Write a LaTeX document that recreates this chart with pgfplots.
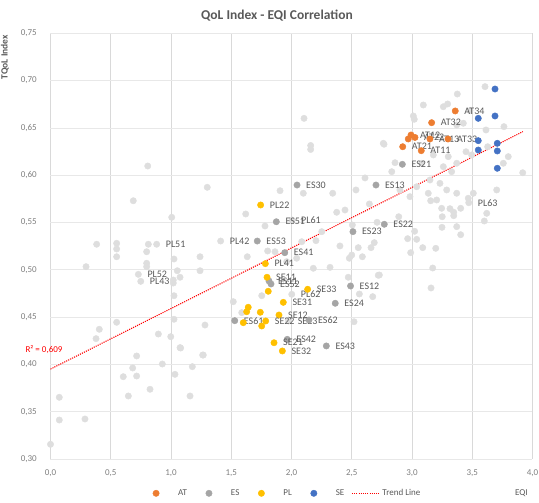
\documentclass[border=0pt]{standalone}
\usepackage{fontspec}
\setmainfont{Carlito}
\usepackage{pgfplots}
\pgfplotsset{compat=1.18}
\definecolor{atc}{HTML}{ED7D31}
\definecolor{esc}{HTML}{A5A5A5}
\definecolor{plc}{HTML}{FFC000}
\definecolor{sec}{HTML}{4472C4}
\definecolor{oth}{HTML}{DEDEDE}
\definecolor{txt}{HTML}{595959}
\definecolor{tickc}{HTML}{7F7F7F}
\definecolor{gridx}{HTML}{D9D9D9}
\definecolor{gridy}{HTML}{E8E8E8}
\pgfplotsset{
  dot/.style={only marks, mark=*, mark size=3.2pt, color=#1, mark options={draw=#1, fill=#1},
    legend image code/.code={\path[draw=none,fill=none] (-15pt,0pt) (20pt,0pt); \draw[##1] plot coordinates {(0pt,0pt)};}},
  trendleg/.style={legend image code/.code={\draw[##1] (0pt,0pt) -- (28pt,0pt);}},
  labs/.style={nodes near coords, point meta=explicit symbolic,
    every node near coord/.append style={anchor=west, inner sep=0pt, xshift=9pt,
      font=\fontsize{10}{11}\selectfont, text=txt}},
}
\begin{document}
\begin{tikzpicture}
\path[use as bounding box] (-50.5pt,-44pt) rectangle (488.5pt,459pt);
\begin{axis}[
  at={(0pt,0pt)}, anchor=south west,
  scale only axis, width=482pt, height=425.7pt,
  xmin=0, xmax=4, ymin=0.3, ymax=0.75,
  xtick={0,0.5,1,1.5,2,2.5,3,3.5,4},
  ytick={0.3,0.35,0.4,0.45,0.5,0.55,0.6,0.65,0.7,0.75},
  xmajorgrids, ymajorgrids,
  x grid style={draw=gridx, line width=0.7pt},
  y grid style={draw=gridy, line width=0.7pt},
  axis line style={draw=none},
  major tick length=0pt,
  tick style={draw=none},
  clip=false,
  /pgf/number format/assume math mode=true,
  xticklabel style={/pgf/number format/fixed, /pgf/number format/fixed zerofill, /pgf/number format/precision=1, /pgf/number format/use comma,
    font=\fontsize{9}{10}\selectfont, text=tickc, inner sep=0pt, anchor=north, yshift=-10.5pt},
  yticklabel style={/pgf/number format/fixed, /pgf/number format/fixed zerofill, /pgf/number format/precision=2, /pgf/number format/use comma,
    font=\fontsize{9}{10}\selectfont, text=tickc, inner sep=0pt, anchor=east, xshift=-13.5pt},
  legend columns=5,
  legend style={at={(0.4797,-0.0806)}, anchor=center, draw=none, fill=none,
    font=\fontsize{9}{10}\selectfont, text=txt,
    /tikz/every odd column/.append style={column sep=0pt},
    /tikz/every even column/.append style={column sep=5pt}},
]
% other regions (light grey)
\addplot[dot=oth, forget plot] table {
x y
0.000 0.3155
0.073 0.3652
0.073 0.3412
0.286 0.3423
0.604 0.3870
0.682 0.3962
0.715 0.4089
0.715 0.3877
0.646 0.3666
0.826 0.3737
0.928 0.4004
1.033 0.3895
1.080 0.4173
1.177 0.3976
1.158 0.3666
1.263 0.4099
0.383 0.5270
0.295 0.5033
0.549 0.5280
0.549 0.5220
0.549 0.5138
0.687 0.5730
0.798 0.5191
0.812 0.5270
0.798 0.5069
0.798 0.5033
1.006 0.5555
1.025 0.5114
1.052 0.4990
1.075 0.4921
1.019 0.4892
1.019 0.4860
1.025 0.4726
1.025 0.4477
0.549 0.4445
0.405 0.4371
0.378 0.4272
0.895 0.4321
0.998 0.4293
1.075 0.4177
1.241 0.5138
1.241 0.4990
0.807 0.6097
1.301 0.5872
2.104 0.6601
2.159 0.6314
2.159 0.6272
2.768 0.6327
1.620 0.5590
1.905 0.5836
2.098 0.5809
2.342 0.5809
1.780 0.5463
2.375 0.5608
2.444 0.5632
2.251 0.5403
2.203 0.5308
2.085 0.5297
2.402 0.5252
1.802 0.5199
1.863 0.5191
1.633 0.5138
2.043 0.5122
2.471 0.4921
2.320 0.5026
2.181 0.5016
1.960 0.5086
1.517 0.4663
1.753 0.4726
1.282 0.4416
1.268 0.4099
2.519 0.4451
2.729 0.4945
2.563 0.4744
2.674 0.4716
1.587 0.4547
2.646 0.5696
2.890 0.5561
2.710 0.5502
2.505 0.5474
3.022 0.5407
2.964 0.5329
3.039 0.5322
2.687 0.5287
2.554 0.5234
2.660 0.5234
2.500 0.5156
2.480 0.5122
2.588 0.5138
2.989 0.5181
3.089 0.5234
3.197 0.5227
3.172 0.5019
2.720 0.4942
3.158 0.4808
3.246 0.5650
3.251 0.5561
3.346 0.5608
3.346 0.5572
3.404 0.5650
3.371 0.5456
3.404 0.5371
3.249 0.5449
3.155 0.5730
3.620 0.5597
3.600 0.5516
3.606 0.6936
3.376 0.6858
3.296 0.6753
3.260 0.6724
3.094 0.6742
3.011 0.6626
3.019 0.6591
3.481 0.6682
3.426 0.6549
3.371 0.6531
3.614 0.6478
3.763 0.6513
3.448 0.6248
3.628 0.6301
3.495 0.6214
3.301 0.6196
3.177 0.6214
3.371 0.6126
3.260 0.6090
3.080 0.6126
2.859 0.6132
2.762 0.6337
2.832 0.6037
3.329 0.6037
3.232 0.5914
3.149 0.5949
3.135 0.5809
3.205 0.5738
3.288 0.5844
3.371 0.5809
3.039 0.5878
2.983 0.5773
2.900 0.5844
3.509 0.5809
3.467 0.5756
3.703 0.5844
3.919 0.6026
3.758 0.6126
3.799 0.6196
3.315 0.5646
2.535 0.5844
2.610 0.5971
};
\addplot[dot=oth, forget plot, labs] table[meta=label] {
x y label
2.004 0.5526 PL61
1.412 0.5304 PL42
0.881 0.5270 PL51
0.729 0.4952 PL52
0.749 0.4878 PL43
2.002 0.4741 PL62
3.471 0.5709 PL63
1.976 0.4459 SE23
};
% AT
\addplot[dot=atc, forget plot] table {
x y
2.969 0.6383
};
\addplot[dot=atc, labs] table[meta=label] {
x y label
3.359 0.6679 AT34
3.163 0.6555 AT32
2.992 0.6425 AT12
3.025 0.6399 AT22
3.149 0.6383 AT13
3.299 0.6383 AT33
2.923 0.6301 AT21
3.077 0.6259 AT11
};
\addlegendentry{AT}
% ES
\addplot[dot=esc, labs] table[meta=label] {
x y label
2.046 0.5896 ES30
1.874 0.5508 ES51
1.716 0.5304 ES53
1.944 0.5181 ES41
1.813 0.4882 ES11
1.830 0.4850 ES52
2.490 0.4829 ES12
2.363 0.4646 ES24
1.529 0.4462 ES61
2.145 0.4469 ES62
1.965 0.4265 ES42
2.289 0.4195 ES43
2.920 0.6115 ES21
2.701 0.5896 ES13
2.770 0.5481 ES22
2.510 0.5403 ES23
};
\addlegendentry{ES}
% PL
\addplot[dot=plc, forget plot] table {
x y
1.807 0.4773
1.641 0.4604
1.628 0.4557
1.741 0.4551
1.600 0.4441
1.753 0.4406
};
\addplot[dot=plc, labs] table[meta=label] {
x y label
1.744 0.5685 PL22
1.783 0.5065 PL41
1.797 0.4921 SE11
2.134 0.4794 SE33
1.932 0.4656 SE31
1.896 0.4522 SE12
1.786 0.4459 SE22
1.855 0.4229 SE21
1.924 0.4142 SE32
};
\addlegendentry{PL}
% SE
\addplot[dot=sec] table {
x y
3.689 0.6911
3.550 0.6601
3.689 0.6626
3.550 0.6365
3.708 0.6337
3.550 0.6266
3.708 0.6256
3.708 0.6073
};
\addlegendentry{SE}
% trend line
\addplot[color=red, line width=1.1pt, dash pattern=on 1.1pt off 1.1pt, trendleg] coordinates {(0,0.395) (3.92,0.646)};
\addlegendentry{Trend Line}
\node[font=\fontsize{9}{10}\selectfont, text=red, inner sep=0pt] at (axis cs:-0.054,0.4152) {R² = 0,609};
\end{axis}
\node[font=\bfseries\fontsize{13.5}{15}\selectfont, text=txt] at (226.5pt,443.5pt) {QoL Index - EQI Correlation};
\node[font=\bfseries\fontsize{9.5}{11}\selectfont, text=txt, rotate=90, anchor=east, inner sep=0pt] at (-45.5pt,424pt) {TQoL Index};
\node[font=\fontsize{9}{10}\selectfont, text=txt, inner sep=0pt] at (470.8pt,-34.3pt) {EQI};
\end{tikzpicture}
\end{document}
